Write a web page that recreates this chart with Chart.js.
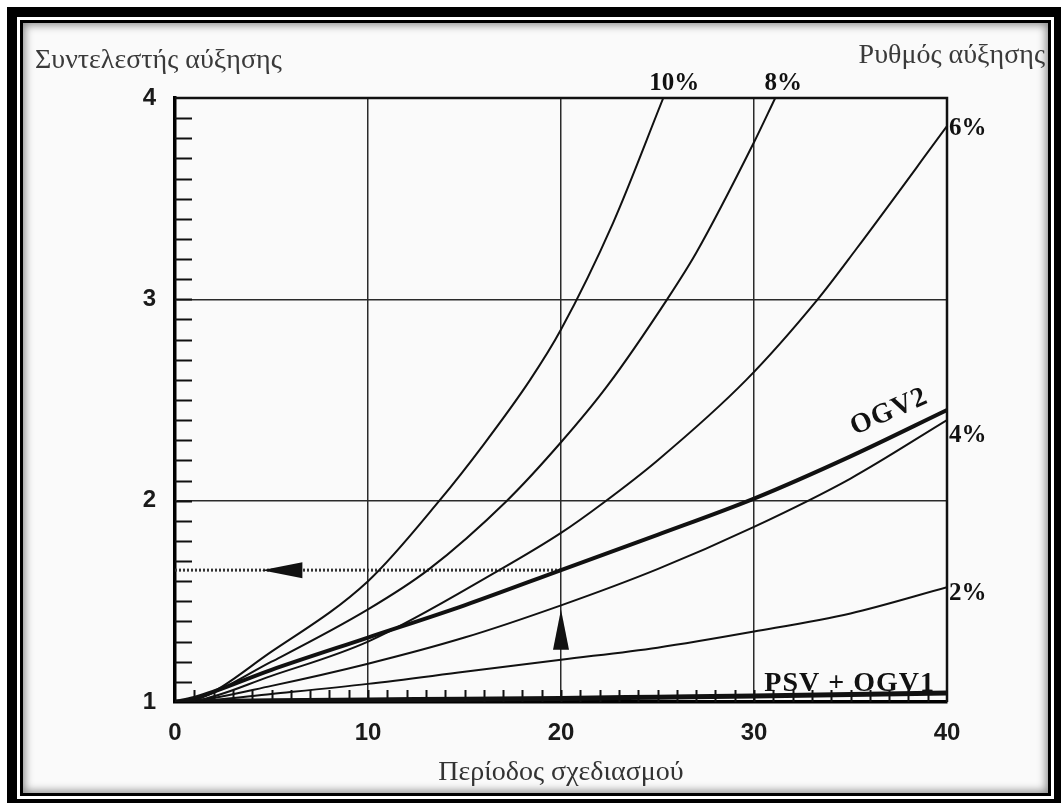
<!DOCTYPE html>
<html>
<head>
<meta charset="utf-8">
<script src="https://cdn.jsdelivr.net/npm/chart.js@4"></script>
<style>
html,body{margin:0;padding:0;width:1061px;height:803px;overflow:hidden;background:#fff;}
#frame{position:absolute;left:7px;top:7px;width:1057px;height:802px;box-sizing:border-box;border:10px solid #000;background:#fff;}
#inner{position:absolute;left:3px;top:3px;right:3px;bottom:3px;border:3px solid #000;background:#fafafa;box-shadow:inset 0 0 9px 2px rgba(0,0,0,0.45);}
#grafico{position:absolute;left:0;top:0;z-index:2;}
</style>
</head>
<body>
<div id="frame"><div id="inner"></div></div>
<canvas id="grafico" width="1061" height="803"></canvas>
<script>
// valores (período em anos, fator de crescimento)
const periodo = [0, 1, 5, 10, 15, 20, 25, 30, 35, 40];
const taxa10X = [0, 1, 5, 10, 13.7, 16, 18.4, 20, 22.7, 25.3];
const taxa10Y = [1, 1.01, 1.25, 1.6, 2.0, 2.28, 2.6, 2.85, 3.38, 4.0];
const taxa8X = [0, 1, 5, 10, 13.1, 17.2, 20, 22.4, 25.5, 27, 30, 31.1];
const taxa8Y = [1, 1.01, 1.2, 1.46, 1.655, 2.0, 2.29, 2.57, 3.0, 3.23, 3.78, 4.0];
const taxa6X = [0, 1, 5, 10, 16.8, 20, 22.2, 25, 29.6, 33.3, 35.3, 40];
const taxa6Y = [1, 1.005, 1.13, 1.3, 1.655, 1.84, 1.99, 2.2, 2.6, 3.0, 3.25, 3.86];
const ogv2Y = [1, 1.02, 1.16, 1.32, 1.48, 1.655, 1.83, 2.01, 2.22, 2.45];
const taxa4Y = [1, 1.005, 1.08, 1.19, 1.32, 1.48, 1.66, 1.87, 2.11, 2.40];
const taxa2Y = [1, 1.002, 1.04, 1.09, 1.15, 1.21, 1.27, 1.35, 1.44, 1.57];
const psvY = [1, 1.002, 1.006, 1.01, 1.014, 1.018, 1.024, 1.03, 1.037, 1.045];

// leitura de exemplo (seta): período 20 -> fator 1.655
const leituraX = [0, 20];
const leituraY = [1.655, 1.655];
const setaEsqX = [4.5, 6.6];   // ponta, base
const setaCimaY = [1.46, 1.26]; // ponta, base

const xTicks = [0, 10, 20, 30, 40];
const yTicks = [1, 2, 3, 4];
const passoMenorX = 1, passoMenorY = 0.1;

const rotulos = ['10%', '8%', '6%', '4%', '2%'];

function pontos(xs, ys){ return xs.map((v,i)=>({x:v, y:ys[i]})); }

function serie(label, xs, ys, largura){
    return {label, data: pontos(xs, ys), borderColor:'#111', borderWidth: largura,
        pointRadius:0, fill:false, cubicInterpolationMode:'monotone'};
}

const datasets = [
    serie('10%', taxa10X, taxa10Y, 2),
    serie('8%', taxa8X, taxa8Y, 2),
    serie('6%', taxa6X, taxa6Y, 2),
    serie('OGV2', periodo, ogv2Y, 4),
    serie('4%', periodo, taxa4Y, 2),
    serie('2%', periodo, taxa2Y, 2),
    serie('PSV + OGV1', periodo, psvY, 5),
    {label:'leitura', data: pontos(leituraX, leituraY), borderColor:'#333', borderWidth:3,
        borderDash:[2,2], pointRadius:0, fill:false}
];

const serif = '"Liberation Serif", "DejaVu Serif", serif';

const decor = {
    id:'decor',
    beforeDatasetsDraw(chart){
        const {ctx, chartArea:a, scales:{x, y}} = chart;
        ctx.save();
        ctx.strokeStyle = '#111';
        ctx.lineWidth = 2;
        // tracinhos menores do eixo y (dentro do gráfico)
        for(let v = yTicks[0] + passoMenorY; v < yTicks[yTicks.length-1] - 0.01; v += passoMenorY){
            const py = Math.round(y.getPixelForValue(v)) + 0.5;
            ctx.beginPath(); ctx.moveTo(a.left, py); ctx.lineTo(a.left + 17, py); ctx.stroke();
        }
        // tracinhos menores do eixo x
        for(let v = xTicks[0] + passoMenorX; v < xTicks[xTicks.length-1]; v += passoMenorX){
            const px = Math.round(x.getPixelForValue(v)) + 0.5;
            ctx.beginPath(); ctx.moveTo(px, a.bottom); ctx.lineTo(px, a.bottom - 12); ctx.stroke();
        }
        // moldura de cima e da direita
        ctx.lineWidth = 2.5;
        ctx.beginPath(); ctx.moveTo(a.left, a.top); ctx.lineTo(a.right, a.top); ctx.lineTo(a.right, a.bottom); ctx.stroke();
        ctx.restore();
    },
    afterDatasetsDraw(chart){
        const {ctx, chartArea:a, scales:{x, y}} = chart;
        ctx.save();
        ctx.fillStyle = '#111';
        // seta para a esquerda
        const yl = y.getPixelForValue(leituraY[0]);
        const t1 = x.getPixelForValue(setaEsqX[0]), b1 = x.getPixelForValue(setaEsqX[1]);
        ctx.beginPath(); ctx.moveTo(t1, yl); ctx.lineTo(b1, yl - 8); ctx.lineTo(b1, yl + 8); ctx.closePath(); ctx.fill();
        // seta para cima
        const xl = x.getPixelForValue(leituraX[1]);
        const t2 = y.getPixelForValue(setaCimaY[0]), b2 = y.getPixelForValue(setaCimaY[1]);
        ctx.beginPath(); ctx.moveTo(xl, t2); ctx.lineTo(xl - 8, b2); ctx.lineTo(xl + 8, b2); ctx.closePath(); ctx.fill();

        // rótulos das taxas
        ctx.font = 'bold 25px ' + serif;
        ctx.textBaseline = 'alphabetic';
        ctx.textAlign = 'center';
        ctx.fillText(rotulos[0], x.getPixelForValue(taxa10X[taxa10X.length-1]) + 11, a.top - 8);
        ctx.fillText(rotulos[1], x.getPixelForValue(taxa8X[taxa8X.length-1]) + 8, a.top - 8);
        ctx.textAlign = 'left';
        ctx.textBaseline = 'middle';
        ctx.fillText(rotulos[2], a.right + 2, y.getPixelForValue(taxa6Y[taxa6Y.length-1]) + 2);
        ctx.fillText(rotulos[3], a.right + 2, y.getPixelForValue(taxa4Y[taxa4Y.length-1]) + 15);
        ctx.fillText(rotulos[4], a.right + 2, y.getPixelForValue(taxa2Y[taxa2Y.length-1]) + 6);
        ctx.font = 'bold 28px ' + serif;
        ctx.letterSpacing = '1px';
        ctx.textAlign = 'right';
        ctx.textBaseline = 'alphabetic';
        ctx.fillText('PSV + OGV1', a.right - 12, a.bottom - 11);
        // OGV2 inclinado
        ctx.save();
        ctx.translate(x.getPixelForValue(37), y.getPixelForValue(2.44));
        ctx.rotate(-24 * Math.PI / 180);
        ctx.textAlign = 'center';
        ctx.textBaseline = 'middle';
        ctx.fillText('OGV2', 0, 0);
        ctx.restore();
        ctx.letterSpacing = '0px';

        // títulos de cima
        ctx.fillStyle = '#3a3a3a';
        ctx.font = '28px ' + serif;
        ctx.textAlign = 'left';
        ctx.fillText('Συντελεστής αύξησης', 35, 68);
        ctx.textAlign = 'right';
        ctx.fillText('Ρυθμός αύξησης', 1045, 63);
        ctx.restore();
    }
};

const fonteEixo = {family:'"Liberation Sans", Arial, sans-serif', weight:'bold', size:24};

new Chart(document.getElementById('grafico').getContext('2d'), {
    type:'line',
    data:{datasets},
    options:{
        responsive:false,
        animation:false,
        layout:{padding:{left:100, right:114, top:98, bottom:14}},
        plugins:{legend:{display:false}, title:{display:false}, tooltip:{enabled:false}},
        scales:{
            x:{
                type:'linear', min:xTicks[0], max:xTicks[xTicks.length-1],
                afterBuildTicks: s => { s.ticks = xTicks.map(v=>({value:v})); },
                afterFit: s => { s.height = 87; },
                grid:{drawTicks:false, lineWidth:1.5,
                    color: c => (c.tick && c.tick.value > xTicks[0] && c.tick.value < xTicks[xTicks.length-1]) ? '#2a2a2a' : 'rgba(0,0,0,0)'},
                border:{display:true, color:'#000', width:3.5},
                ticks:{padding:17, color:'#1a1a1a', font:fonteEixo},
                title:{display:true, text:'Περίοδος σχεδιασμού', color:'#333', font:{family:serif, size:28}, padding:{top:0, bottom:0}}
            },
            y:{
                type:'linear', min:yTicks[0], max:yTicks[yTicks.length-1],
                afterBuildTicks: s => { s.ticks = yTicks.map(v=>({value:v})); },
                afterFit: s => { s.width = 75; },
                grid:{drawTicks:false, lineWidth:1.5,
                    color: c => (c.tick && c.tick.value > yTicks[0] && c.tick.value < yTicks[yTicks.length-1]) ? '#2a2a2a' : 'rgba(0,0,0,0)'},
                border:{display:true, color:'#000', width:3.5},
                ticks:{padding:19, color:'#1a1a1a', font:fonteEixo}
            }
        }
    },
    plugins:[decor]
});
</script>
</body>
</html>
